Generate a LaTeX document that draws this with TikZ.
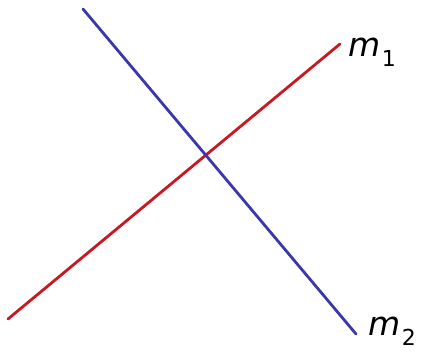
\documentclass[tikz,border=0pt]{standalone}
\usepackage{fontspec}
\setmainfont{DejaVu Sans}
\definecolor{linered}{RGB}{200,25,35}
\definecolor{lineblue}{RGB}{60,55,170}
\tikzset{
  lbl/.style={anchor=base west, inner sep=0pt, font=\fontsize{33}{35}\selectfont},
  ln/.style={line width=2.8pt, line cap=round}
}
\newcommand{\msub}[1]{\textit{m}\hspace{0.05em}\raisebox{-0.3em}{\fontsize{22}{24}\selectfont #1}}
\begin{document}
\begin{tikzpicture}[x=1pt,y=-1pt]
\useasboundingbox (0,0) rectangle (421,352);
\coordinate (r1) at (8,319);
\coordinate (r2) at (340,44);
\coordinate (b1) at (83,9);
\coordinate (b2) at (356,334);
\draw[ln, linered] (r1) -- (r2);
\draw[ln, lineblue] (b1) -- (b2);
\node[lbl] (m1) at (348,57) {\msub{1}};
\node[lbl] (m2) at (368,336) {\msub{2}};
\end{tikzpicture}
\end{document}
